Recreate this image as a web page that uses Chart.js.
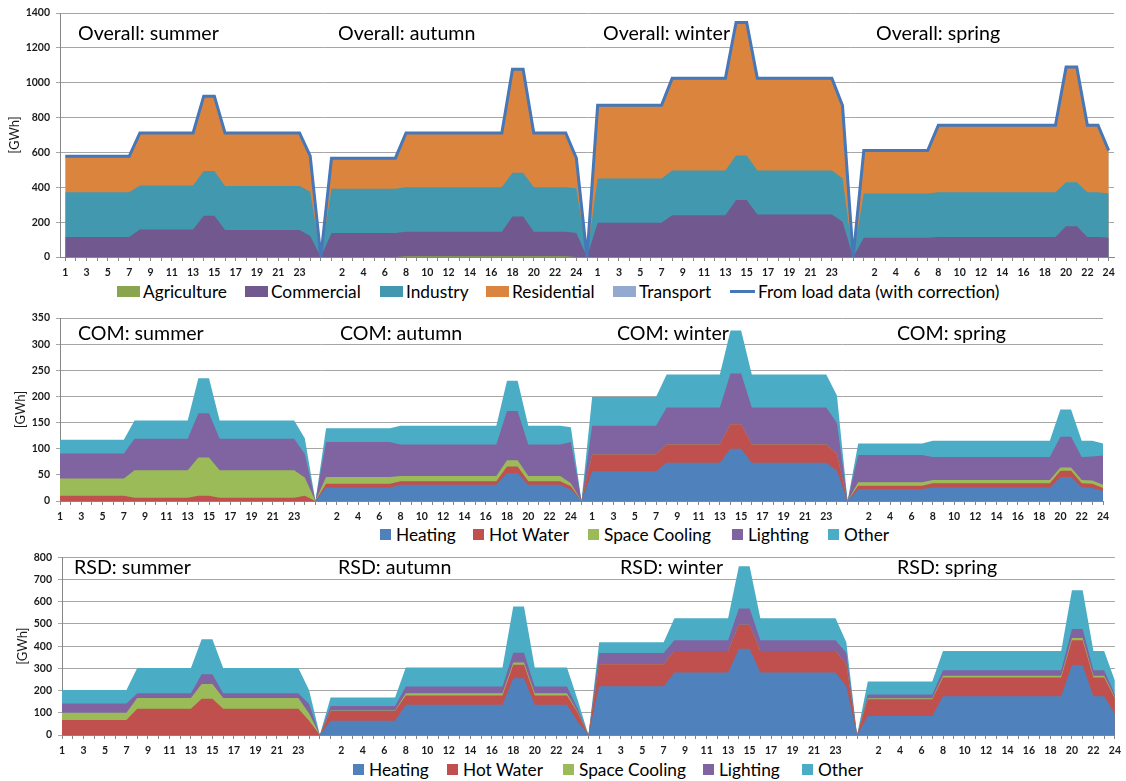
<!DOCTYPE html>
<html>
<head>
<meta charset="utf-8">
<title>Hourly load by season</title>
<script src="https://cdn.jsdelivr.net/npm/chart.js@4.4.1/dist/chart.umd.min.js"></script>
<style>
  html, body { margin: 0; padding: 0; background: #fff; overflow: hidden; }
  body { width: 1126px; height: 781px; position: relative; font-family: Lato, "Open Sans", sans-serif; }
  .box { position: absolute; left: 0; width: 1126px; }
  .legend { position: absolute; left: 0; width: 1126px; height: 20px; font-size: 17.3px; color: #000; }
  .item { position: absolute; top: 0; height: 20px; display: flex; align-items: center; white-space: nowrap; }
  .swatch { display: inline-block; }
</style>
</head>
<body>
<div class="box" style="top:0;height:279px"><canvas id="ovChart"></canvas></div>
<div class="legend" id="ovLegend" style="top:281px"></div>
<div class="box" style="top:302px;height:221px"><canvas id="comChart"></canvas></div>
<div class="legend" id="comLegend" style="top:524px"></div>
<div class="box" style="top:545px;height:212px"><canvas id="rsdChart"></canvas></div>
<div class="legend" id="rsdLegend" style="top:759px"></div>
<script>
// hours of a typical day; seasons are separated by one empty category
const hours = ['1','2','3','4','5','6','7','8','9','10','11','12','13','14','15','16','17','18','19','20','21','22','23','24'];
const categories = [...hours, '', ...hours, '', ...hours, '', ...hours];

// ---- Overall (GWh) : summer | gap | autumn | gap | winter | gap | spring
const ovAgriculture = [
  0,0,0,0,0,0,0,0,0,0,0,0,0,0,0,0,0,0,0,0,0,0,0,0, 0,
  0,0,0,0,0,0,0,5,5,5,5,5,5,5,5,5,5,5,5,5,5,5,5,0, 0,
  0,0,0,0,0,0,0,0,0,0,0,0,0,0,0,0,0,0,0,0,0,0,0,0, 0,
  0,0,0,0,0,0,0,0,0,0,0,0,0,0,0,0,0,0,0,0,0,0,0,0];
const ovCommercial = [
  115,115,115,115,115,115,115,158,158,158,158,158,158,236,236,155,155,155,155,155,155,155,155,120, 0,
  138,138,138,138,138,138,138,140,140,140,140,140,140,140,140,140,140,227,227,140,140,140,140,138, 0,
  196,196,196,196,196,196,196,240,240,240,240,240,240,327,327,244,244,244,244,244,244,244,244,202, 0,
  110,110,110,110,110,110,110,115,115,115,115,115,115,115,115,115,115,115,115,177,177,115,115,110];
const ovIndustry = [
  256,256,256,256,256,256,256,252,252,252,252,252,252,258,258,252,252,252,252,252,252,252,252,255, 0,
  254,254,254,254,254,254,254,255,255,255,255,255,255,255,255,255,255,252,252,255,255,255,255,257, 0,
  254,254,254,254,254,254,254,256,256,256,256,256,256,256,256,252,252,252,252,252,252,252,252,250, 0,
  255,255,255,255,255,255,255,256,256,256,256,256,256,256,256,256,256,256,256,252,252,256,256,255];
const ovResidential = [
  207,207,207,207,207,207,207,302,302,302,302,302,302,429,429,305,305,305,305,305,305,305,305,205, 0,
  175,175,175,175,175,175,175,312,312,312,312,312,312,312,312,312,312,593,593,312,312,312,312,172, 0,
  421,421,421,421,421,421,421,529,529,529,529,529,529,763,763,529,529,529,529,529,529,529,529,417, 0,
  246,246,246,246,246,246,246,385,385,385,385,385,385,385,385,385,385,385,385,661,661,385,385,246];
const ovTransport = [
  0,0,0,0,0,0,0,0,0,0,0,0,0,0,0,0,0,0,0,0,0,0,0,0, 0,
  0,0,0,0,0,0,0,0,0,0,0,0,0,0,0,0,0,0,0,0,0,0,0,0, 0,
  0,0,0,0,0,0,0,0,0,0,0,0,0,0,0,0,0,0,0,0,0,0,0,0, 0,
  0,0,0,0,0,0,0,0,0,0,0,0,0,0,0,0,0,0,0,0,0,0,0,0];
const ovLoadData = [
  578,578,578,578,578,578,578,712,712,712,712,712,712,923,923,712,712,712,712,712,712,712,712,580, 0,
  567,567,567,567,567,567,567,712,712,712,712,712,712,712,712,712,712,1077,1077,712,712,712,712,567, 0,
  871,871,871,871,871,871,871,1025,1025,1025,1025,1025,1025,1346,1346,1025,1025,1025,1025,1025,1025,1025,1025,869, 0,
  611,611,611,611,611,611,611,756,756,756,756,756,756,756,756,756,756,756,756,1090,1090,756,756,611];

// ---- Commercial end uses (GWh)
const comHeating = [
  0,0,0,0,0,0,0,0,0,0,0,0,0,0,0,0,0,0,0,0,0,0,0,0, 0,
  26,26,26,26,26,26,26,31,31,31,31,31,31,31,31,31,31,53,53,31,31,31,31,22, 0,
  57,57,57,57,57,57,57,73,73,73,73,73,73,100,100,73,73,73,73,73,73,73,73,58, 0,
  23,23,23,23,23,23,23,26,26,26,26,26,26,26,26,26,26,26,26,46,46,26,25,19];
const comHotWater = [
  10,10,10,10,10,10,10,6,6,6,6,6,6,10,10,6,6,6,6,6,6,6,6,10, 0,
  7,7,7,7,7,7,7,7,7,7,7,7,7,7,7,7,7,13,13,7,7,7,7,6, 0,
  32,32,32,32,32,32,32,35,35,35,35,35,35,47,47,35,35,35,35,35,35,35,35,32, 0,
  6,6,6,6,6,6,6,8,8,8,8,8,8,8,8,8,8,8,8,12,12,8,8,6];
const comSpaceCooling = [
  33,33,33,33,33,33,33,53,53,53,53,53,53,73,73,53,53,53,53,53,53,53,53,35, 0,
  13,13,13,13,13,13,13,10,10,10,10,10,10,10,10,10,10,12,12,10,10,10,10,6, 0,
  0,0,0,0,0,0,0,0,0,0,0,0,0,0,0,0,0,0,0,0,0,0,0,0, 0,
  7,7,7,7,7,7,7,6,6,6,6,6,6,6,6,6,6,6,6,6,6,6,6,6];
const comLighting = [
  48,48,48,48,48,48,48,60,60,60,60,60,60,85,85,60,60,60,60,60,60,60,60,45, 0,
  67,67,67,67,67,67,67,60,60,60,60,60,60,60,60,60,60,94,94,60,60,60,60,79, 0,
  55,55,55,55,55,55,55,71,71,71,71,71,71,97,97,71,71,71,71,71,71,71,71,59, 0,
  52,52,52,52,52,52,52,44,44,44,44,44,44,44,44,44,44,44,44,59,59,44,46,56];
const comOther = [
  26,26,26,26,26,26,26,35,35,35,35,35,35,67,67,35,35,35,35,35,35,35,35,30, 0,
  26,26,26,26,26,26,26,36,36,36,36,36,36,36,36,36,36,58,58,36,36,36,36,28, 0,
  55,55,55,55,55,55,55,63,63,63,63,63,63,82,82,63,63,63,63,63,63,63,63,53, 0,
  22,22,22,22,22,22,22,31,31,31,31,31,31,31,31,31,31,31,31,52,52,31,30,23];

// ---- Residential end uses (GWh)
const rsdHeating = [
  0,0,0,0,0,0,0,0,0,0,0,0,0,0,0,0,0,0,0,0,0,0,0,0, 0,
  64,64,64,64,64,64,64,136,136,136,136,136,136,136,136,136,136,256,256,136,136,136,136,60, 0,
  219,219,219,219,219,219,219,281,281,281,281,281,281,388,388,281,281,281,281,281,281,281,281,219, 0,
  86,86,86,86,86,86,86,175,175,175,175,175,175,175,175,175,175,175,175,314,314,175,175,93];
const rsdHotWater = [
  67,67,67,67,67,67,67,118,118,118,118,118,118,163,163,118,118,118,118,118,118,118,118,64, 0,
  44,44,44,44,44,44,44,42,42,42,42,42,42,42,42,42,42,60,60,42,42,42,42,40, 0,
  100,100,100,100,100,100,100,97,97,97,97,97,97,108,108,97,97,97,97,97,97,97,97,99, 0,
  75,75,75,75,75,75,75,84,84,84,84,84,84,84,84,84,84,84,84,113,113,84,84,73];
const rsdSpaceCooling = [
  33,33,33,33,33,33,33,49,49,49,49,49,49,67,67,49,49,49,49,49,49,49,49,33, 0,
  2,2,2,2,2,2,2,10,10,10,10,10,10,10,10,10,10,10,10,10,10,10,10,3, 0,
  0,0,0,0,0,0,0,0,0,0,0,0,0,0,0,0,0,0,0,0,0,0,0,0, 0,
  4,4,4,4,4,4,4,8,8,8,8,8,8,8,8,8,8,8,8,10,10,8,8,5];
const rsdLighting = [
  42,42,42,42,42,42,42,21,21,21,21,21,21,44,44,21,21,21,21,21,21,21,21,42, 0,
  20,20,20,20,20,20,20,30,30,30,30,30,30,30,30,30,30,44,44,30,30,30,30,15, 0,
  50,50,50,50,50,50,50,49,49,49,49,49,49,74,74,49,49,49,49,49,49,49,49,52, 0,
  17,17,17,17,17,17,17,25,25,25,25,25,25,25,25,25,25,25,25,40,40,25,25,11];
const rsdOther = [
  61,61,61,61,61,61,61,114,114,114,114,114,114,157,157,114,114,114,114,114,114,114,114,62, 0,
  39,39,39,39,39,39,39,86,86,86,86,86,86,86,86,86,86,208,208,86,86,86,86,40, 0,
  49,49,49,49,49,49,49,99,99,99,99,99,99,190,190,99,99,99,99,99,99,99,99,48, 0,
  59,59,59,59,59,59,59,86,86,86,86,86,86,86,86,86,86,86,86,175,175,86,86,62];

const ovNames = ['Agriculture', 'Commercial', 'Industry', 'Residential', 'Transport', 'From load data (with correction)'];
const ovColors = ['#89a54e', '#71588f', '#4198af', '#db843d', '#93a9cf', '#4677b8'];
const useNames = ['Heating', 'Hot Water', 'Space Cooling', 'Lighting', 'Other'];
const useColors = ['#4f81bd', '#c0504d', '#9bbb59', '#8064a2', '#4bacc6'];

const ovTitles = ['Overall: summer', 'Overall: autumn', 'Overall: winter', 'Overall: spring'];
const comTitles = ['COM: summer', 'COM: autumn', 'COM: winter', 'COM: spring'];
const rsdTitles = ['RSD: summer', 'RSD: autumn', 'RSD: winter', 'RSD: spring'];

Chart.defaults.font.family = 'Lato, "Open Sans", sans-serif';
Chart.defaults.color = '#1a1a1a';

// season captions written inside each plot
Chart.register({
  id: 'seasonTitles',
  afterDraw(chart, args, opts) {
    if (!opts.texts) return;
    const ctx = chart.ctx;
    ctx.save();
    ctx.font = opts.size + 'px Lato, "Open Sans", sans-serif';
    ctx.fillStyle = '#000';
    ctx.textBaseline = 'middle';
    ctx.textAlign = 'left';
    opts.texts.forEach((t, i) => ctx.fillText(t, opts.xs[i], opts.y));
    ctx.restore();
  }
});

function area(label, data, color) {
  return {
    label, data,
    backgroundColor: color, borderColor: 'rgba(0,0,0,0)', borderWidth: 0,
    fill: 'origin', pointRadius: 0, pointHoverRadius: 0, stack: 'parts'
  };
}

const tickFont = { size: 10.5, weight: 'bold' };

function buildChart(id, datasets, cfg) {
  return new Chart(document.getElementById(id), {
    type: 'line',
    data: { labels: categories, datasets },
    options: {
      animation: false,
      responsive: true,
      maintainAspectRatio: false,
      events: [],
      layout: { padding: { left: 0, right: cfg.right, top: cfg.top, bottom: 0 } },
      elements: { line: { tension: 0 } },
      plugins: {
        legend: { display: false },
        tooltip: { enabled: false },
        seasonTitles: { texts: cfg.titles, xs: cfg.titleX, y: cfg.titleY, size: 19.6 }
      },
      scales: {
        x: {
          offset: cfg.offset,
          grid: { drawOnChartArea: false, tickLength: 4, color: '#868686', offset: false },
          border: { color: '#868686' },
          ticks: {
            autoSkip: false, maxRotation: 0, minRotation: 0, padding: 5, font: tickFont, color: '#1a1a1a',
            callback: function (v, i) { return i % 2 === 0 ? this.getLabelForValue(v) : ''; }
          },
          afterFit: s => { s.height = 22; }
        },
        y: {
          stacked: true, min: 0, max: cfg.yMax,
          border: { color: '#868686' },
          grid: { color: '#a6a6a6', tickLength: 4 },
          ticks: { stepSize: cfg.yStep, padding: 6, font: tickFont, color: '#1a1a1a', callback: v => String(v) },
          title: { display: true, text: '[GWh]', font: { size: 13 }, color: '#1a1a1a', padding: { top: cfg.titlePad, bottom: 0 } },
          afterFit: s => { s.width = cfg.yWidth; }
        }
      }
    }
  });
}

const ovSets = [ovAgriculture, ovCommercial, ovIndustry, ovResidential, ovTransport].map((d, i) => area(ovNames[i], d, ovColors[i]));
ovSets.push({
  label: ovNames[5], data: ovLoadData, borderColor: ovColors[5], borderWidth: 3,
  fill: false, pointRadius: 0, stack: 'total', order: -1
});
buildChart('ovChart', ovSets, {
  right: 12, top: 13, yWidth: 60, yMax: 1400, yStep: 200, offset: true, titlePad: 7,
  titles: ovTitles, titleX: [78, 338, 603, 876], titleY: 34
});

buildChart('comChart', [comHeating, comHotWater, comSpaceCooling, comLighting, comOther].map((d, i) => area(useNames[i], d, useColors[i])), {
  right: 23, top: 16, yWidth: 60, yMax: 350, yStep: 50, offset: false, titlePad: 13,
  titles: comTitles, titleX: [78, 340, 617, 897], titleY: 32
});

buildChart('rsdChart', [rsdHeating, rsdHotWater, rsdSpaceCooling, rsdLighting, rsdOther].map((d, i) => area(useNames[i], d, useColors[i])), {
  right: 11, top: 10, yWidth: 62, yMax: 800, yStep: 100, offset: false, titlePad: 15,
  titles: rsdTitles, titleX: [74, 338, 620, 897], titleY: 23
});

// legends placed under each chart
function buildLegend(id, names, colors, lefts, swW, gap, lineIndex) {
  const el = document.getElementById(id);
  names.forEach((name, i) => {
    const item = document.createElement('div');
    item.className = 'item';
    item.style.left = lefts[i] + 'px';
    const sw = document.createElement('span');
    sw.className = 'swatch';
    sw.style.width = (i === lineIndex ? 25 : swW) + 'px';
    sw.style.height = (i === lineIndex ? 3 : 11) + 'px';
    sw.style.background = colors[i];
    sw.style.marginRight = gap + 'px';
    const tx = document.createElement('span');
    tx.textContent = name;
    item.appendChild(sw);
    item.appendChild(tx);
    el.appendChild(item);
  });
}
buildLegend('ovLegend', ovNames, ovColors, [117, 245, 380, 486, 613, 730], 23, 3, 5);
buildLegend('comLegend', useNames, useColors, [380, 473, 588, 732, 828], 11, 5, -1);
buildLegend('rsdLegend', useNames, useColors, [353, 447, 563, 703, 802], 11, 5, -1);
</script>
</body>
</html>
